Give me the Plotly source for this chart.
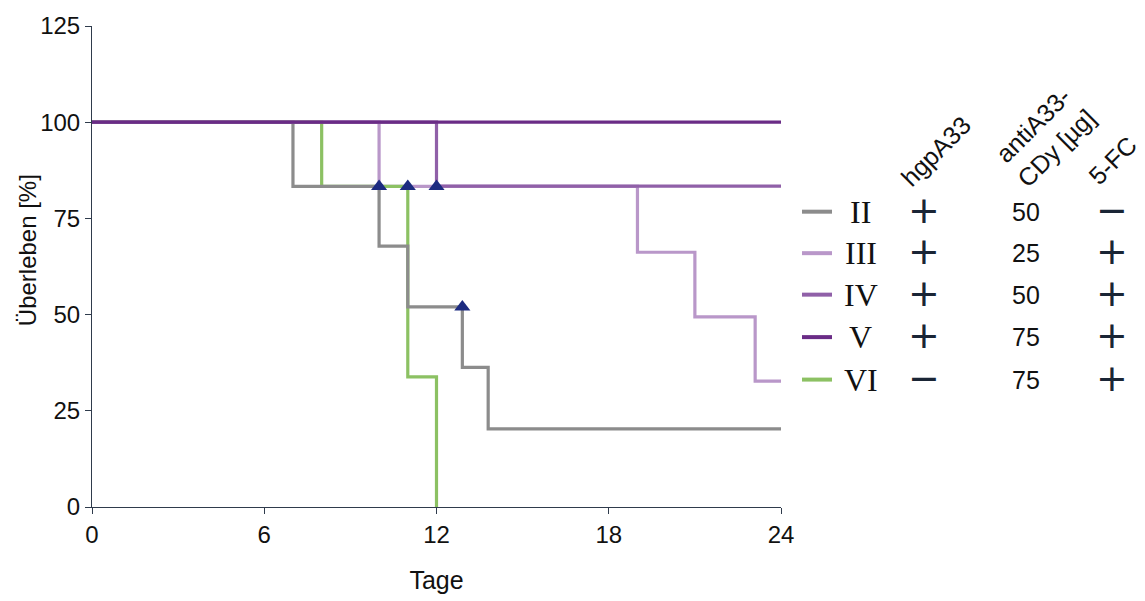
import plotly.graph_objects as go

# ---- data ----
t_II = [0, 7, 10, 11, 12.9, 13.8, 24]
s_II = [100, 83.3, 67.8, 52.0, 36.3, 20.3, 20.3]

t_III = [0, 10, 19, 21, 23.1, 24]
s_III = [100, 83.3, 66.2, 49.4, 32.7, 32.7]

t_IV = [0, 12, 24]
s_IV = [100, 83.4, 83.4]

t_V = [0, 24]
s_V = [100, 100]

t_VI = [0, 8, 11, 12]
s_VI = [100, 83.3, 33.8, 0]

cens_t = [10, 11, 12, 12.9]
cens_s = [83.3, 83.3, 83.3, 52.0]

groups = ["II", "III", "IV", "V", "VI"]
hgpA33 = ["+", "+", "+", "+", "\u2212"]
dose = ["50", "25", "50", "75", "75"]
fc5 = ["\u2212", "+", "+", "+", "+"]

x_ticks = [0, 6, 12, 18, 24]
y_ticks = [0, 25, 50, 75, 100, 125]

colors = {
    "II": "#8c8c8c",
    "III": "#b997c9",
    "IV": "#9060a8",
    "V": "#6a2c86",
    "VI": "#8cc163",
}
series = {
    "II": (t_II, s_II),
    "III": (t_III, s_III),
    "IV": (t_IV, s_IV),
    "V": (t_V, s_V),
    "VI": (t_VI, s_VI),
}

W, H = 1145, 601
L, R, T, B = 92, 364, 24, 90
PW, PH = W - L - R, H - T - B


def px(xp):
    return (xp - L) / PW


def py(yp):
    return (H - B - yp) / PH


fig = go.Figure()
for g in ["III", "VI", "II", "IV", "V"]:
    t, s = series[g]
    fig.add_trace(go.Scatter(x=t, y=s, mode="lines", line_shape="hv",
                             line=dict(color=colors[g], width=3.2),
                             showlegend=False, hoverinfo="skip"))

fig.add_trace(go.Scatter(x=cens_t, y=cens_s, mode="markers",
                         marker=dict(symbol="triangle-up", size=14, color="#1c2b80"),
                         showlegend=False, cliponaxis=False))

axis_color = "#2f3b4c"
fig.update_xaxes(range=[0, 24], tickvals=x_ticks, showline=True, linecolor=axis_color,
                 linewidth=1, ticks="outside", ticklen=6, tickcolor=axis_color,
                 showgrid=False, zeroline=False,
                 title=dict(text="Tage", standoff=24,
                            font=dict(family="Liberation Sans, Arial", size=25, color="#111")),
                 tickfont=dict(size=24, color="#111"))
fig.update_yaxes(range=[0, 125], tickvals=y_ticks, showline=True, linecolor=axis_color,
                 linewidth=1, ticks="outside", ticklen=6, tickcolor=axis_color,
                 showgrid=False, zeroline=False,
                 tickfont=dict(size=24, color="#111"))

row_y = [212, 254, 296, 339, 382]
ann = []
shapes = []
sign_color = "#1a2535"

# y-axis title
ann.append(dict(x=px(27), y=py(251), text="Überleben [%]", showarrow=False, textangle=-90,
                xref="paper", yref="paper", xanchor="center", yanchor="middle",
                font=dict(size=24, color="#111")))

for i, g in enumerate(groups):
    yy = py(row_y[i])
    shapes.append(dict(type="line", xref="paper", yref="paper",
                       x0=px(802), x1=px(832), y0=yy, y1=yy,
                       line=dict(color=colors[g], width=4)))
    ann.append(dict(x=px(861), y=yy, text=groups[i], showarrow=False,
                    xref="paper", yref="paper", xanchor="center", yanchor="middle",
                    font=dict(family="Liberation Serif, Times New Roman", size=32, color="#111")))
    ann.append(dict(x=px(924), y=py(row_y[i] - 2), text=hgpA33[i], showarrow=False,
                    xref="paper", yref="paper", xanchor="center", yanchor="middle",
                    font=dict(family="DejaVu Sans", size=38, color=sign_color)))
    ann.append(dict(x=px(1026), y=yy, text=dose[i], showarrow=False,
                    xref="paper", yref="paper", xanchor="center", yanchor="middle",
                    font=dict(size=25, color="#111")))
    ann.append(dict(x=px(1112), y=py(row_y[i] - 2), text=fc5[i], showarrow=False,
                    xref="paper", yref="paper", xanchor="center", yanchor="middle",
                    font=dict(family="DejaVu Sans", size=38, color=sign_color)))

headers = [("hgpA33", 936, 151), ("antiA33-<br>CDy [µg]", 1045, 136), ("5-FC", 1113, 160)]
for text, hx, hy in headers:
    ann.append(dict(x=px(hx), y=py(hy), text=text, showarrow=False, textangle=-45,
                    xref="paper", yref="paper", xanchor="center", yanchor="middle",
                    font=dict(size=25, color="#111")))

fig.update_layout(
    width=W, height=H,
    margin=dict(l=L, r=R, t=T, b=B, pad=0),
    paper_bgcolor="white", plot_bgcolor="white",
    font=dict(family="Liberation Sans, Arial", size=24, color="#111"),
    annotations=ann, shapes=shapes,
)

fig.write_html("out.html")
